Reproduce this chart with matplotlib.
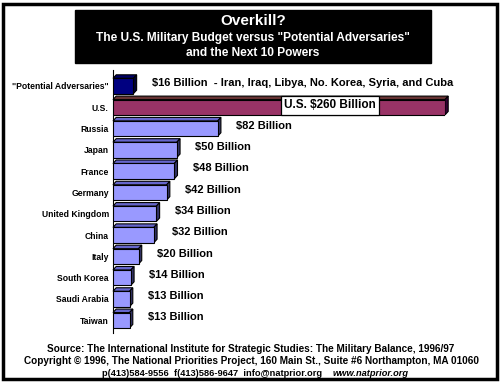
import numpy as np
import matplotlib
matplotlib.use("Agg")
from matplotlib import pyplot as plt
from matplotlib.patches import Polygon, Rectangle

countries = ['"Potential Adversaries"', "U.S.", "Russia", "Japan", "France",
             "Germany", "United Kingdom", "China", "Italy", "South Korea",
             "Saudi Arabia", "Taiwan"]
budget = [16, 260, 82, 50, 48, 42, 34, 32, 20, 14, 13, 13]  # $ billions
value_labels = ["$16 Billion  - Iran, Iraq, Libya, No. Korea, Syria, and Cuba",
                "U.S. $260 Billion", "$82 Billion", "$50 Billion", "$48 Billion",
                "$42 Billion", "$34 Billion", "$32 Billion", "$20 Billion",
                "$14 Billion", "$13 Billion", "$13 Billion"]

# front, top, side colours
col_adv = ("#000080", "#000066", "#000033")
col_us = ("#993366", "#663333", "#330033")
col_rest = ("#9999ff", "#6666cc", "#333366")

plt.rcParams["font.family"] = ["Liberation Sans", "DejaVu Sans"]

W, H = 503, 382
fig = plt.figure(figsize=(W / 100, H / 100), dpi=100)

# outer frame
fig.patches.append(Rectangle((3 / W, 3 / H), 494 / W, 375 / H, transform=fig.transFigure,
                             fill=False, ec="black", lw=2.5))

# title box
fig.patches.append(Rectangle((75 / W, 1 - 63 / H), 356 / W, 53 / H, transform=fig.transFigure,
                             fc="black", ec="black"))
fig.text(253 / W, 1 - 21 / H, "Overkill?", color="white", ha="center", va="center",
         fontsize=11, fontweight="bold")
fig.text(253 / W, 1 - 38 / H, 'The U.S. Military Budget versus "Potential Adversaries"',
         color="white", ha="center", va="center", fontsize=8.6, fontweight="bold")
fig.text(253 / W, 1 - 53 / H, "and the Next 10 Powers", color="white", ha="center",
         va="center", fontsize=8.6, fontweight="bold")

# axes: x 0..260 maps to 113..445 px, rows from y=70 to 333 px
ax = fig.add_axes([113 / W, 1 - 333 / H, 332 / W, 263 / H])
n = len(countries)
ypos = np.arange(n)
ax.set_xlim(0, 260)
ax.set_ylim(n - 0.4, -0.75)

bh = 0.72
dx = 3.2 / 332 * 260          # depth in data units (~3 px)
dy = 3.5 / 263 * (n - 0.4 + 0.75)

for i, v in enumerate(budget):
    if i == 0:
        c = col_adv
    elif i == 1:
        c = col_us
    else:
        c = col_rest
    y0 = ypos[i] + bh / 2
    y1 = ypos[i] - bh / 2
    ax.add_patch(Polygon([(0, y1), (dx, y1 - dy), (v + dx, y1 - dy), (v, y1)],
                         closed=True, fc=c[1], ec="black", lw=0.8, clip_on=False))
    ax.add_patch(Polygon([(v, y1), (v + dx, y1 - dy), (v + dx, y0 - dy), (v, y0)],
                         closed=True, fc=c[2], ec="black", lw=0.8, clip_on=False))
ax.barh(ypos, budget, height=bh, color=[col_adv[0], col_us[0]] + [col_rest[0]] * (n - 2),
        edgecolor="black", linewidth=0.8, zorder=3)

# value labels
for i, (v, lab) in enumerate(zip(budget, value_labels)):
    if i == 1:
        ax.text(170, ypos[i] - 0.1, lab, ha="center", va="center", fontsize=8.5,
                fontweight="bold", zorder=5,
                bbox=dict(boxstyle="square,pad=0.3", fc="white", ec="black", lw=0.9))
    else:
        ax.annotate(lab, (v + dx, ypos[i]), xytext=(11, 2), textcoords="offset points",
                    ha="left", va="center", fontsize=8, fontweight="bold",
                    annotation_clip=False)

ax.set_yticks(ypos)
ax.set_yticklabels(countries, fontsize=6.2, fontweight="bold")
ax.tick_params(axis="y", length=0, pad=3)
ax.set_xticks([])
for s in ["top", "right", "bottom"]:
    ax.spines[s].set_visible(False)
ax.spines["left"].set_linewidth(0.8)
ax.patch.set_visible(False)

# footer
fs = 7.2
fig.text(251 / W, 1 - 349 / H,
         "Source: The International Institute for Strategic Studies: The Military Balance, 1996/97",
         ha="center", va="center", fontsize=fs, fontweight="bold")
fig.text(251 / W, 1 - 361 / H,
         "Copyright \u00a9 1996, The National Priorities Project, 160 Main St., Suite #6 Northampton, MA 01060",
         ha="center", va="center", fontsize=fs, fontweight="bold")
fig.text(322 / W, 1 - 373 / H, "p(413)584-9556  f(413)586-9647  info@natprior.org",
         ha="right", va="center", fontsize=6.7, fontweight="bold")
fig.text(333 / W, 1 - 373 / H, "www.natprior.org", ha="left", va="center",
         fontsize=6.7, fontweight="bold", fontstyle="italic")

fig.savefig("out.png", dpi=100)
